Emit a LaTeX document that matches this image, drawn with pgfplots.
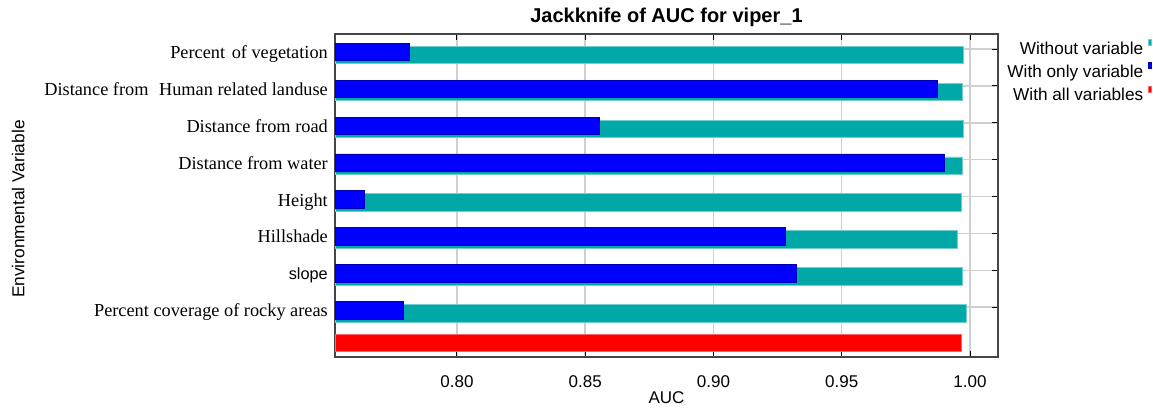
\documentclass[border=0pt]{standalone}
\usepackage{fontspec}
\setmainfont{Liberation Serif}
\newfontfamily\arial{Liberation Sans}
\usepackage{pgfplots}
\pgfplotsset{compat=1.18}
\definecolor{teal1}{RGB}{0,168,168}
\definecolor{blue1}{RGB}{0,0,255}
\definecolor{red1}{RGB}{255,0,0}
\definecolor{gridc}{RGB}{208,208,208}
\definecolor{axc}{RGB}{70,70,70}
\begin{document}
\begin{tikzpicture}
\useasboundingbox (0,0) rectangle (1153pt,410pt);
\begin{axis}[
 at={(335pt,53pt)}, anchor=south west,
 scale only axis, width=663pt, height=323pt,
 xmin=0.75244, xmax=1.01092, ymin=-0.352, ymax=8.407,
 xtick={0.80,0.85,0.90,0.95,1.00},
 xticklabels={0.80,0.85,0.90,0.95,1.00},
 ytick={1,2,3,4,5,6,7,8},
 yticklabels={Percent coverage of rocky areas, {\arial\fontsize{16.3}{20}\selectfont slope}, Hillshade, Height, Distance from water, Distance from road, {Distance from\hspace{6pt} Human related landuse}, {Percent\hspace{2pt} of vegetation}},
 ytick pos=right, yticklabel pos=left,
 xtick pos=both,
 tick align=inside,
 major tick length=6pt,
 tick style={black, line width=1pt},
 axis line style={axc, line width=1.5pt},
 grid=major, grid style={gridc, line width=1.5pt},
 xticklabel style={font=\arial\fontsize{17}{20}\selectfont, anchor=base, yshift=-30pt, inner sep=0pt},
 yticklabel style={font=\fontsize{18.3}{21}\selectfont, anchor=base east, inner sep=0pt, xshift=-7pt, yshift=-9.5pt},
 title={Jackknife of AUC for viper\_1},
 title style={font=\arial\bfseries\fontsize{20}{23}\selectfont, at={(axis description cs:0.5,1.034)}, anchor=center, inner sep=0pt},
 xlabel={AUC},
 xlabel style={font=\arial\fontsize{17}{20}\selectfont, at={(axis description cs:0.5,-0.127)}, anchor=center, inner sep=0pt},
 ylabel={Environmental Variable},
 ylabel style={font=\arial\fontsize{17.3}{20}\selectfont, at={(axis description cs:-0.478,0.458)}, anchor=center, inner sep=0pt},
 legend style={at={(axis description cs:1.2323,0.985)}, anchor=north east, draw=none, fill=none,
   font=\arial\fontsize{17.2}{19}\selectfont, inner sep=0pt, row sep=4pt, column sep=0pt,
   nodes={inner sep=0pt, text height=12pt, text depth=4pt}, cells={anchor=east}},
 legend plot pos=right,
 legend image code/.code={\path (0pt,0pt); \fill[#1] (5pt,5pt) rectangle (8pt,11pt);},
]
\addplot[xbar, bar width=17.5pt, bar shift=0pt, fill=teal1, draw=teal1!55!white, line width=0.6pt]
 coordinates {(0.9984,0.837) (0.9969,1.837) (0.9949,2.837) (0.9965,3.837) (0.9969,4.837) (0.9973,5.837) (0.9969,6.837) (0.9973,7.837)};
\addlegendentry{Without variable}
\addplot[xbar, bar width=17.5pt, bar shift=0pt, fill=blue1, draw=blue1!70!black, line width=0.6pt]
 coordinates {(0.7789,0.919) (0.9324,1.919) (0.9280,2.919) (0.7637,3.919) (0.9899,4.919) (0.8555,5.919) (0.9871,6.919) (0.7816,7.919)};
\addlegendentry{With only variable}
\addplot[xbar, bar width=17.5pt, bar shift=0pt, fill=red1, draw=red1!60!white, line width=0.6pt]
 coordinates {(0.9965,0.03)};
\addlegendentry{With all variables}
\end{axis}
\end{tikzpicture}
\end{document}
